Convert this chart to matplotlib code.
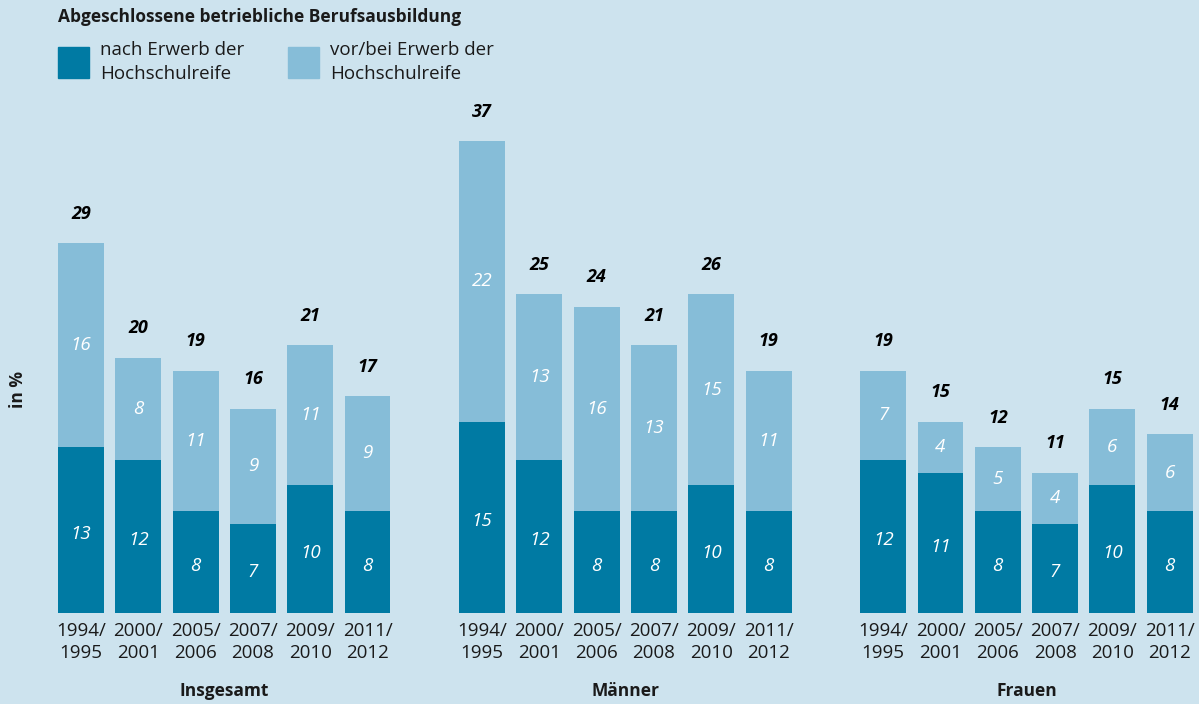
import numpy as np
import matplotlib.pyplot as plt

plt.rcParams['font.family'] = ['Open Sans', 'DejaVu Sans']

groups = ["Insgesamt", "Männer", "Frauen"]
years = ["1994/\n1995", "2000/\n2001", "2005/\n2006", "2007/\n2008", "2009/\n2010", "2011/\n2012"]

# nach Erwerb der Hochschulreife (dunkel)
nach = [[13, 12, 8, 7, 10, 8],
        [15, 12, 8, 8, 10, 8],
        [12, 11, 8, 7, 10, 8]]
# vor/bei Erwerb der Hochschulreife (hell)
vor = [[16, 8, 11, 9, 11, 9],
       [22, 13, 16, 13, 15, 11],
       [7, 4, 5, 4, 6, 6]]
# Summen (wie beschriftet)
gesamt = [[29, 20, 19, 16, 21, 17],
          [37, 25, 24, 21, 26, 19],
          [19, 15, 12, 11, 15, 14]]

bg = '#cde3ee'
dark = '#007aa3'
light = '#86bdd8'

W, H = 1199, 704
fig = plt.figure(figsize=(W/100, H/100), dpi=100, facecolor=bg)
ax = fig.add_axes([0, 91/H, 1, 613/H])
ax.set_facecolor(bg)
step = 57.3
ax.set_xlim(-81/step, (W-81)/step)
ax.set_ylim(0, 613/12.76)
ax.axis('off')

for g in range(3):
    x = np.arange(6) + g*7
    d = np.array(nach[g])
    l = np.array(vor[g])
    ax.bar(x, d, width=0.8, color=dark)
    ax.bar(x, l, bottom=d, width=0.8, color=light)
    for i in range(6):
        ax.text(x[i], d[i]/2 - 0.3, str(d[i]), ha='center', va='center', color='white',
                style='italic', fontweight='medium', fontsize=13.5)
        ax.text(x[i], d[i] + l[i]/2, str(l[i]), ha='center', va='center', color='white',
                style='italic', fontweight='medium', fontsize=13.5)
        ax.text(x[i], d[i] + l[i] + 2.3, str(gesamt[g][i]), ha='center', va='center',
                color='black', style='italic', fontweight='bold', fontsize=13)
        ax.text(x[i], -0.7, years[i], ha='center', va='top', color='#1a1a1a',
                fontsize=13.5, linespacing=1.32)
    ax.text(x.mean(), -6.1, groups[g], ha='center', va='center', fontweight='bold',
            fontsize=12.5, color='#1a1a1a')

# Titel und Legende
fig.text(58/W, 1 - 17/H, "Abgeschlossene betriebliche Berufsausbildung", ha='left', va='center',
         fontweight='bold', fontsize=12.5, color='#1a1a1a')
fig.patches.append(plt.Rectangle((58/W, 1 - 78/H), 31/W, 31/H, color=dark,
                                 transform=fig.transFigure, figure=fig))
fig.patches.append(plt.Rectangle((288/W, 1 - 78/H), 31/W, 31/H, color=light,
                                 transform=fig.transFigure, figure=fig))
fig.text(100/W, 1 - 62/H, "nach Erwerb der\nHochschulreife", ha='left', va='center',
         fontsize=13.5, color='#1a1a1a', linespacing=1.38)
fig.text(330/W, 1 - 62/H, "vor/bei Erwerb der\nHochschulreife", ha='left', va='center',
         fontsize=13.5, color='#1a1a1a', linespacing=1.38)
fig.text(18/W, 1 - 390/H, "in %", rotation=90, ha='center', va='center',
         fontweight='bold', fontsize=12.5, color='#1a1a1a')

fig.savefig('out.png', dpi=100, facecolor=bg)
